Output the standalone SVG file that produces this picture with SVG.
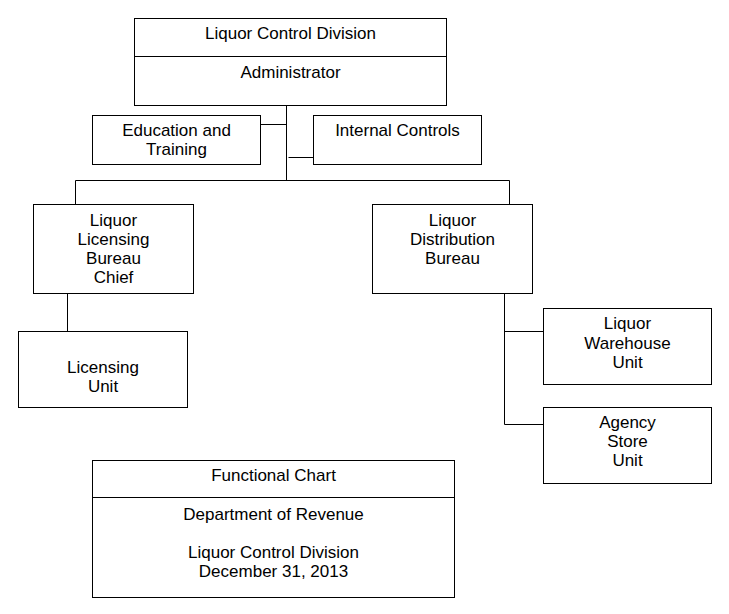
<svg xmlns="http://www.w3.org/2000/svg" width="729" height="614" viewBox="0 0 729 614">
<style>
rect{fill:#fff;stroke:#000;stroke-width:1}
line,path{stroke:#000;stroke-width:1;fill:none}
text{font-family:"Liberation Sans",Arial,sans-serif;font-size:17px;fill:#000;text-anchor:middle}
</style>
<rect x="0" y="0" width="729" height="614" style="stroke:none"/>
<g id="connectors">
<path d="M286.5 105.5V180.5"/>
<path d="M260.5 124.5H286.5"/>
<path d="M288.5 157.5H313.5"/>
<path d="M75.5 204.5V180.5H509.5V204.5"/>
<path d="M67.5 293.5V331.5"/>
<path d="M504.5 293.5V424.5H543.5"/>
<path d="M504.5 331.5H543.5"/>
</g>
<g id="liquor-control-division">
<rect x="134.5" y="18.5" width="312" height="87"/>
<line x1="134.5" y1="56.5" x2="446.5" y2="56.5"/>
<text x="290.5" y="39">Liquor Control Division</text>
<text x="290.5" y="78">Administrator</text>
</g>
<g id="education-training">
<rect x="92.5" y="115.5" width="168" height="49"/>
<text x="176.5" y="136">Education and</text>
<text x="176.5" y="155">Training</text>
</g>
<g id="internal-controls">
<rect x="313.5" y="115.5" width="168" height="49"/>
<text x="397.5" y="136">Internal Controls</text>
</g>
<g id="liquor-licensing-bureau">
<rect x="33.5" y="204.5" width="160" height="89"/>
<text x="113.5" y="226">Liquor</text>
<text x="113.5" y="245">Licensing</text>
<text x="113.5" y="264">Bureau</text>
<text x="113.5" y="283">Chief</text>
</g>
<g id="licensing-unit">
<rect x="18.5" y="331.5" width="169" height="76"/>
<text x="103" y="373">Licensing</text>
<text x="103" y="392">Unit</text>
</g>
<g id="liquor-distribution-bureau">
<rect x="372.5" y="204.5" width="160" height="89"/>
<text x="452.5" y="226">Liquor</text>
<text x="452.5" y="245">Distribution</text>
<text x="452.5" y="264">Bureau</text>
</g>
<g id="liquor-warehouse-unit">
<rect x="543.5" y="308.5" width="168" height="76"/>
<text x="627.5" y="329">Liquor</text>
<text x="627.5" y="348.5">Warehouse</text>
<text x="627.5" y="367.5">Unit</text>
</g>
<g id="agency-store-unit">
<rect x="543.5" y="407.5" width="168" height="76"/>
<text x="627.5" y="428">Agency</text>
<text x="627.5" y="447">Store</text>
<text x="627.5" y="466">Unit</text>
</g>
<g id="functional-chart">
<rect x="92.5" y="460.5" width="362" height="137"/>
<line x1="92.5" y1="497.5" x2="454.5" y2="497.5"/>
<text x="273.5" y="481">Functional Chart</text>
<text x="273.5" y="520">Department of Revenue</text>
<text x="273.5" y="558">Liquor Control Division</text>
<text x="273.5" y="577">December 31, 2013</text>
</g>
</svg>
